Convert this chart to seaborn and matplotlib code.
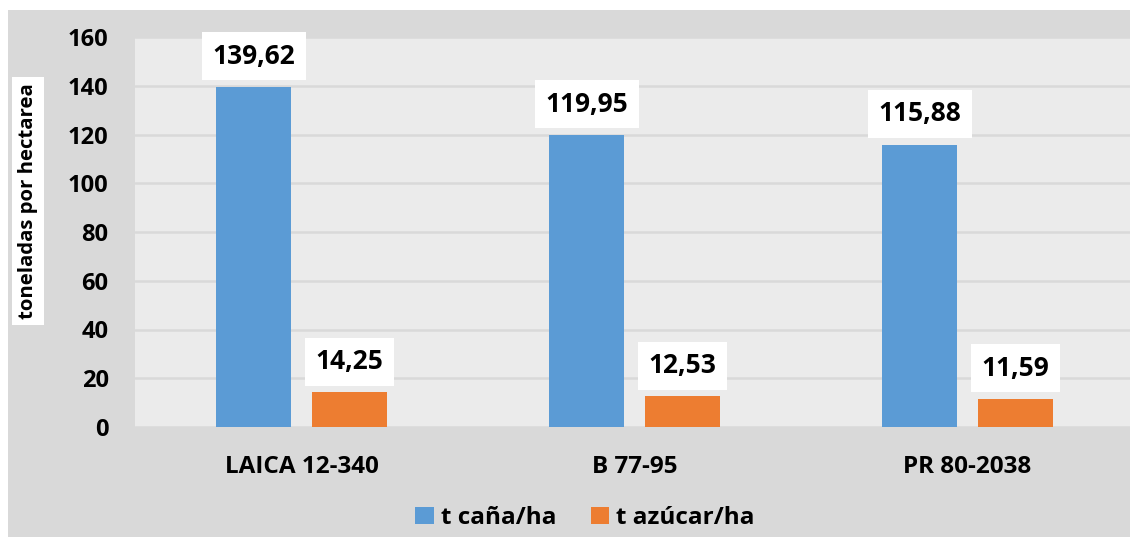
import matplotlib.pyplot as plt
import pandas as pd
import seaborn as sns
from matplotlib.patches import Rectangle

variedades = ['LAICA 12-340', 'B 77-95', 'PR 80-2038']
t_cana = [139.62, 119.95, 115.88]
t_azucar = [14.25, 12.53, 11.59]
series = ['t caña/ha', 't azúcar/ha']
colores = ['#5b9bd5', '#ed7d31']
y_ticks = [0, 20, 40, 60, 80, 100, 120, 140, 160]

sns.set_style("white")
plt.rcParams['font.family'] = ['Open Sans', 'DejaVu Sans']
plt.rcParams['font.weight'] = 'bold'
plt.rcParams['text.color'] = 'black'
plt.rcParams['xtick.color'] = 'black'
plt.rcParams['ytick.color'] = 'black'

df = pd.DataFrame({
    'variedad': variedades * 2,
    'serie': [series[0]] * 3 + [series[1]] * 3,
    'valor': t_cana + t_azucar,
})

W, H = 1130, 537
fig = plt.figure(figsize=(W / 100, H / 100), dpi=100)
fig.patch.set_facecolor('white')
fig.patches.append(Rectangle((8 / W, 0), 1 - 8 / W, 1 - 10 / H, transform=fig.transFigure,
                             facecolor='#d9d9d9', edgecolor='none', zorder=-10))

ax = fig.add_axes([135 / W, 110 / H, 999 / W, 390 / H])
ax.set_facecolor('#ebebeb')
sns.barplot(data=df, x='variedad', y='valor', hue='serie', palette=colores,
            width=0.573, gap=0.21, ax=ax, saturation=1, linewidth=0, zorder=3)

ax.set_ylim(0, 160)
ax.set_yticks(y_ticks)
ax.yaxis.grid(True, color='#d9d9d9', linewidth=1.8, zorder=0)
ax.set_axisbelow(True)
for s in ax.spines.values():
    s.set_visible(False)
ax.tick_params(axis='y', length=0, pad=19, labelsize=17)
ax.tick_params(axis='x', length=0, pad=20, labelsize=17.5)
ax.set_xlabel('')
ax.set_ylabel('')

for cont in ax.containers:
    for bar in cont:
        v = bar.get_height()
        ax.annotate(f'{v:.2f}'.replace('.', ','), (bar.get_x() + bar.get_width() / 2, v),
                    xytext=(0, 22), textcoords='offset points', ha='center', va='center',
                    fontsize=19, fontweight='bold', zorder=5,
                    bbox=dict(boxstyle='square,pad=0.4', facecolor='white', edgecolor='none'))

fig.text(28 / W, 1 - 201 / H, 'toneladas por hectarea', rotation=90, ha='center', va='center',
         fontsize=14.7, fontweight='bold',
         bbox=dict(boxstyle='square,pad=0.3', facecolor='white', edgecolor='none'))

leg = ax.legend(loc='center', bbox_to_anchor=(585 / W, 1 - 518 / H), bbox_transform=fig.transFigure,
                ncol=2, frameon=False, fontsize=17.5, handlelength=0.75, handleheight=0.75,
                handletextpad=0.3, columnspacing=1.4)
for t in leg.get_texts():
    t.set_fontweight('bold')

fig.savefig('out.png', dpi=100)
